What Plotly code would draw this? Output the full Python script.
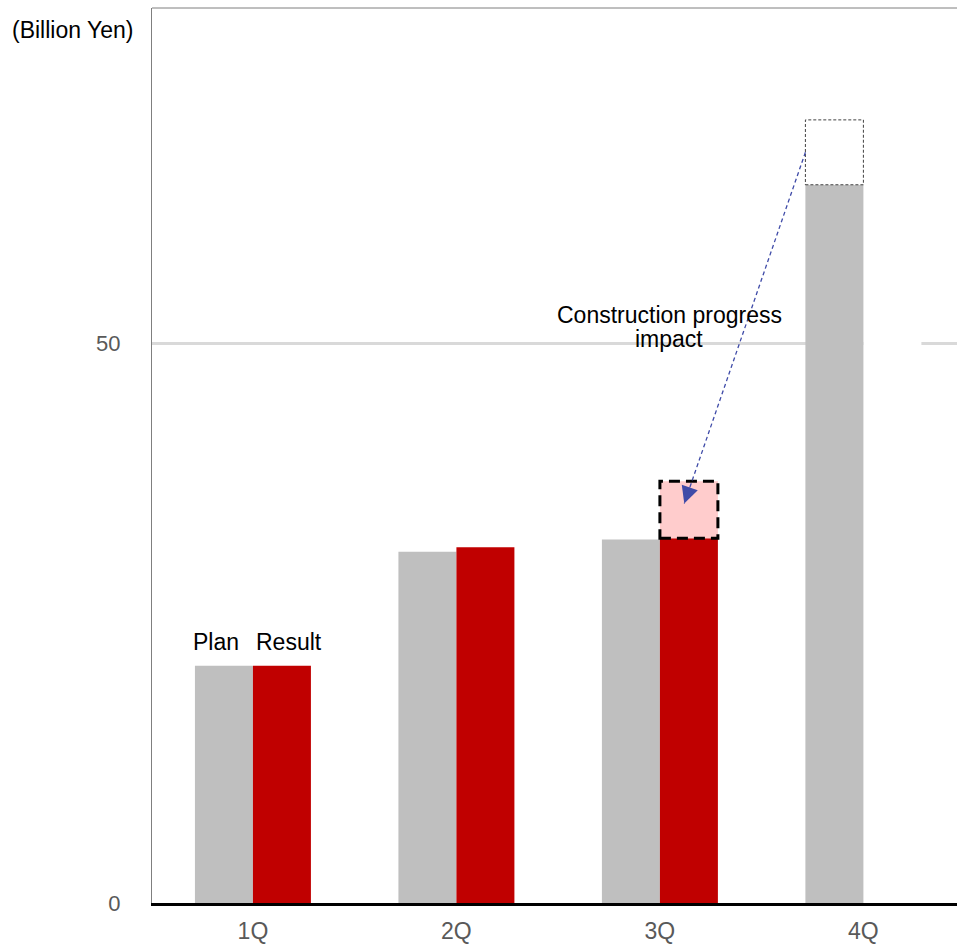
import plotly.graph_objects as go

# Quarterly figures, billion yen
quarters = ["1Q", "2Q", "3Q", "4Q"]
plan = [21.2, 31.4, 32.5, 64.2]
result = [21.2, 31.8, 32.6, None]

# Original 4Q plan before shifting, and 3Q result including the shifted amount
plan_4q_original = 70.0
result_3q_with_shift = 37.7

PLAN_COLOR = "#BFBFBF"
RESULT_COLOR = "#C00000"
ARROW_COLOR = "#3F4BA8"
TICK_COLOR = "#595959"
FONT = "Liberation Sans, Arial, sans-serif"

BAR_GAP = 0.43
BAR_W = (1 - BAR_GAP) / 2  # width of one bar in category units
xpos = list(range(len(quarters)))

fig = go.Figure()
fig.add_bar(x=xpos, y=plan, name="Plan", marker_color=PLAN_COLOR,
            marker_line_width=0, hoverinfo="skip")
fig.add_bar(x=xpos, y=result, name="Result", marker_color=RESULT_COLOR,
            marker_line_width=0, hoverinfo="skip")

shapes = []
# keep the empty 4Q result slot clear of the gridline
shapes.append(dict(type="rect", layer="between", xref="x", yref="y",
                   x0=xpos[3], x1=xpos[3] + BAR_W, y0=0, y1=plan[3],
                   fillcolor="white", line_width=0))
# dotted outline: part of the 4Q plan that moved
shapes.append(dict(type="rect", layer="above", xref="x", yref="y",
                   x0=xpos[3] - BAR_W, x1=xpos[3], y0=plan[3], y1=plan_4q_original,
                   fillcolor="white", line=dict(color="#404040", width=1, dash="3px,2px")))
# pink dashed box: amount pulled forward into 3Q
shapes.append(dict(type="rect", layer="above", xref="x", yref="y",
                   x0=xpos[2], x1=xpos[2] + BAR_W, y0=result[2], y1=result_3q_with_shift,
                   fillcolor="#FFCCCC", line=dict(color="black", width=3, dash="11px,6px")))

# dashed arrow from the 4Q outline to the 3Q box
start_x = xpos[3] - BAR_W
start_y = plan[3] + (plan_4q_original - plan[3]) * 0.5
tip_x = xpos[2] + BAR_W * 0.42
tip_y = result[2] + (result_3q_with_shift - result[2]) * 0.61
shapes.append(dict(type="line", layer="above", xref="x", yref="y",
                   x0=start_x, y0=start_y, x1=tip_x, y1=tip_y,
                   line=dict(color=ARROW_COLOR, width=1.3, dash="4px,3px")))
# thin frame along the top edge
shapes.append(dict(type="line", xref="paper", yref="paper", x0=0, x1=1, y0=1, y1=1,
                   line=dict(color="#7F7F7F", width=1)))

annotations = []
# arrowhead
back = 0.05
annotations.append(dict(x=tip_x, y=tip_y, xref="x", yref="y",
                        ax=tip_x + (start_x - tip_x) * back,
                        ay=tip_y + (start_y - tip_y) * back,
                        axref="x", ayref="y", text="", showarrow=True,
                        arrowhead=2, arrowsize=2.6, arrowwidth=1.3,
                        arrowcolor=ARROW_COLOR, standoff=0))

text_font = dict(family=FONT, size=23, color="black")
annotations.append(dict(x=xpos[2], y=50, xref="x", yref="y", xshift=9.5, yshift=29,
                        text="Construction progress", showarrow=False,
                        yanchor="middle", font=text_font))
annotations.append(dict(x=xpos[2], y=50, xref="x", yref="y", xshift=9.5, yshift=5,
                        text="impact", showarrow=False,
                        yanchor="middle", font=text_font))
annotations.append(dict(x=xpos[0] - BAR_W / 2, y=plan[0], xref="x", yref="y",
                        xshift=-7.5, yshift=23.5, text="Plan", showarrow=False,
                        yanchor="middle", font=text_font))
annotations.append(dict(x=xpos[0] + BAR_W / 2, y=result[0], xref="x", yref="y",
                        xshift=7.5, yshift=23.5, text="Result", showarrow=False,
                        yanchor="middle", font=text_font))
annotations.append(dict(x=0, y=1, xref="paper", yref="paper", xanchor="right",
                        yanchor="middle", xshift=-17, yshift=-22,
                        text="(Billion Yen)", showarrow=False, font=text_font))

fig.update_layout(
    width=957, height=944,
    margin=dict(l=152, r=0, t=8, b=41),
    paper_bgcolor="white", plot_bgcolor="white",
    barmode="group", bargap=BAR_GAP, bargroupgap=0,
    showlegend=False,
    shapes=shapes, annotations=annotations,
    font=dict(family=FONT),
)
fig.update_xaxes(
    range=[-0.496, 3.46], tickvals=xpos, ticktext=quarters,
    showgrid=False, zeroline=False, automargin=False,
    showline=True, linecolor="black", linewidth=3,
    ticks="outside", ticklen=5, tickcolor="rgba(0,0,0,0)",
    tickfont=dict(family=FONT, size=23, color=TICK_COLOR),
    fixedrange=True,
)
fig.update_yaxes(
    range=[0, 80], tickvals=[0, 50],
    showgrid=True, gridcolor="#D9D9D9", gridwidth=3, zeroline=False, automargin=False,
    showline=True, linecolor="#7F7F7F", linewidth=1,
    ticks="outside", ticklen=26, tickcolor="rgba(0,0,0,0)",
    tickfont=dict(family=FONT, size=22, color=TICK_COLOR),
    fixedrange=True,
)

fig.write_html("out.html")
